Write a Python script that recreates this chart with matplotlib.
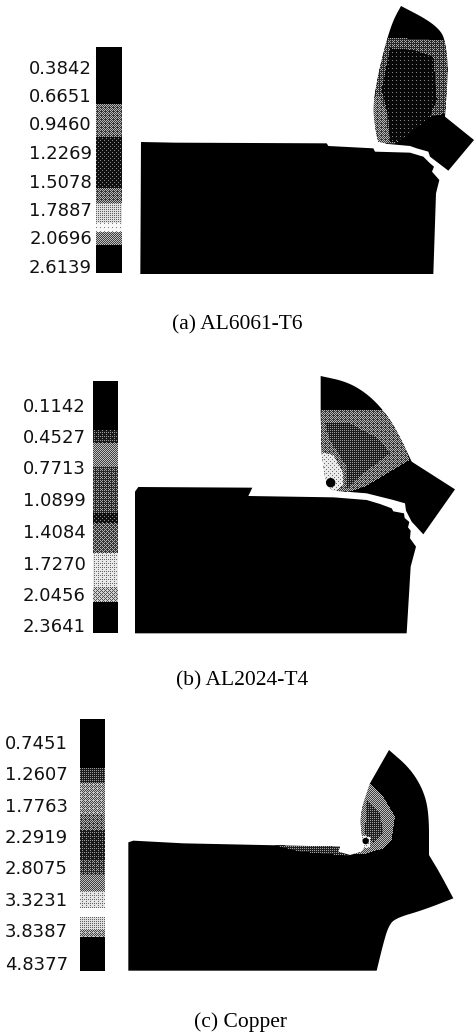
import numpy as np
import matplotlib
matplotlib.use("Agg")
import matplotlib.pyplot as plt
from matplotlib.patches import Polygon, Circle
from matplotlib.path import Path

# Contour legend values
labels_a = ["0.3842", "0.6651", "0.9460", "1.2269", "1.5078", "1.7887", "2.0696", "2.6139"]
labels_b = ["0.1142", "0.4527", "0.7713", "1.0899", "1.4084", "1.7270", "2.0456", "2.3641"]
labels_c = ["0.7451", "1.2607", "1.7763", "2.2919", "2.8075", "3.3231", "3.8387", "4.8377"]
captions = ["(a) AL6061-T6", "(b) AL2024-T4", "(c) Copper"]

# Legend band edges (3x crop units) and gray level of each band
edges_a = [142, 313, 410, 565, 610, 670, 695, 735, 820]
grays_a = [0.0, 0.42, 0.12, 0.42, 0.75, 0.95, 0.5, 0.0]
edges_b = [122, 270, 310, 380, 520, 550, 640, 740, 785, 880]
grays_b = [0.0, 0.2, 0.52, 0.32, 0.12, 0.4, 0.82, 0.65, 0.0]
edges_c = [58, 205, 248, 345, 390, 480, 525, 572, 625, 650, 690, 712, 812]
grays_c = [0.0, 0.22, 0.55, 0.42, 0.2, 0.3, 0.5, 0.8, 0.98, 0.75, 0.55, 0.0]

# Deformed mesh outlines (3x crop units)
work_a = [(423,426),(525,428),(980,430),(985,438),(1120,445),(1125,455),(1230,458),(1270,470),(1290,490),
          (1302,500),(1296,515),(1318,540),(1308,580),(1300,822),(421,822)]
chip_a_right = [(1203,18),(1280,58),(1320,90),(1335,120),(1345,200),(1335,350)]
chip_a_tip = [(1422,420),(1345,512),(1290,470),(1285,455),(1250,445),(1230,438),(1165,432)]
chip_a_left = [(1135,425),(1128,400),(1118,320),(1135,220),(1160,120),(1180,60),(1203,18)]
mid_a = [(1150,112),(1360,122),(1360,200),(1340,340),(1290,350),(1230,400),(1170,440),(1100,430),(1100,220)]
core_a = [(1170,145),(1240,150),(1300,170),(1310,300),(1290,350),(1230,400),(1190,425),(1170,425),(1165,350),(1145,270)]
left_a = [(1100,320),(1135,280),(1160,340),(1165,430),(1100,430)]

work_b = [(405,455),(415,441),(757,443),(745,468),(1000,472),(1100,480),(1140,492),(1175,505),(1180,514),(1212,520),
          (1214,534),(1228,546),(1224,562),(1232,572),(1230,595),(1248,620),(1232,680),(1220,880),(405,880)]
chip_b_arc = [(962,108),(1040,125),(1100,160),(1150,210),(1190,270),(1235,365)]
chip_b_rest = [(1365,448),(1270,583),(1235,545),(1218,512),(1215,490),(1180,480),(1100,460),(1000,452),
               (985,440),(975,410),(965,340),(962,220)]
mid_b = [(950,210),(1150,210),(1200,270),(1228,360),(1095,440),(1040,458),(950,458)]
core_b = [(975,250),(1050,250),(1140,300),(1170,340),(1090,400),(1040,445),(1040,380),(990,300)]
light_b = [(960,335),(1000,345),(1030,400),(1030,435),(1000,458),(960,458)]

body_c_notch = [(385,427),(400,422),(550,430),(1020,440),(1015,455),(1050,465),(1085,455),(1095,440)]
body_c_bulge = [(1095,440),(1085,410),(1080,340),(1110,250)]
body_c_arc = [(1167,150),(1230,205),(1270,270),(1287,340),(1287,465)]
body_c_nose = [(1287,465),(1320,520),(1360,595)]
body_c_under = [(1360,595),(1270,630),(1185,655),(1165,680),(1150,730),(1130,812)]
body_c_base = [(385,812)]
mid_c = [(1060,250),(1110,250),(1150,290),(1185,350),(1175,420),(1150,445),(1095,462),(1060,462)]
core_c = [(1100,300),(1140,340),(1150,400),(1120,430),(1095,400)]
light_c = [(1080,405),(1112,412),(1108,445),(1080,445)]
strip_c = [(810,433),(1020,440),(1015,455),(1050,468),(900,455)]

W, H = 474, 1035
fig = plt.figure(figsize=(W / 100, H / 100), dpi=100)
ax = fig.add_axes([0, 0, 1, 1])

BAYER = np.array([[0, 8, 2, 10], [12, 4, 14, 6], [3, 11, 1, 9], [15, 7, 13, 5]]) / 16 + 1 / 32
YY, XX = np.mgrid[0:H, 0:W]
THRESH = BAYER[YY % 4, XX % 4]
GRID = np.column_stack([XX.ravel() + 0.5, YY.ravel() + 0.5])


def curve(points, n=3):
    pts = np.array(points, float)
    for _ in range(n):
        q = 0.75 * pts[:-1] + 0.25 * pts[1:]
        r = 0.25 * pts[:-1] + 0.75 * pts[1:]
        mid = np.empty((2 * len(q), 2))
        mid[0::2], mid[1::2] = q, r
        pts = np.vstack([pts[0], mid, pts[-1]])
    return pts


def px(points, dy):
    return np.asarray(points, float) / 3 + [0, dy]


def solid(points, dy):
    ax.add_patch(Polygon(px(points, dy), closed=True, fc="black", ec="none", zorder=1))


def stipple(region, gray, clip=None, dy=0, z=2):
    inside = Path(px(region, dy)).contains_points(GRID).reshape(H, W)
    if clip is not None:
        inside &= Path(px(clip, dy)).contains_points(GRID).reshape(H, W)
    rgba = np.zeros((H, W, 4))
    rgba[..., :3] = (0.5 * (gray > THRESH) + 0.5 * gray)[..., None]
    rgba[..., 3] = inside * 1.0
    ax.imshow(rgba, extent=(0, W, H, 0), interpolation="nearest", aspect="auto", zorder=z)


def legend(edges, grays, names, x0, x1, dy, right, label_y):
    x = x0 * 3
    w = x1 * 3
    for top, bot, g in zip(edges[:-1], edges[1:], grays):
        stipple([(x, top), (w, top), (w, bot), (x, bot)], g, dy=dy)
    for name, y in zip(names, label_y):
        ax.text(right, y / 3 + dy + 0.5, name, ha="right", va="center", fontsize=13,
                family="DejaVu Sans", color="#111111", zorder=5)


def caption(x, y, s):
    ax.text(x, y, s, ha="center", va="center", fontsize=15.5, family="Liberation Serif", zorder=5)


# (a)
legend(edges_a, grays_a, labels_a, 96, 122, 0, 92, [204, 290, 375, 460, 546, 632, 716, 802])
solid(work_a, 0)
chip_a = np.vstack([curve(chip_a_right), chip_a_tip, curve(chip_a_left)])
solid(chip_a, 0)
stipple(mid_a, 0.32, chip_a)
stipple(core_a, 0.07, chip_a)
stipple(left_a, 0.45, chip_a)
caption(237, 325, captions[0])

# (b)
legend(edges_b, grays_b, labels_b, 93.5, 117.5, 340, 86, [198, 292, 386, 482, 577, 672, 767, 860])
solid(work_b, 340)
chip_b = np.vstack([curve(chip_b_arc), chip_b_rest])
solid(chip_b, 340)
stipple(mid_b, 0.42, chip_b, 340)
stipple(core_b, 0.22, chip_b, 340)
stipple(light_b, 0.85, chip_b, 340)
ax.add_patch(Circle((992 / 3, 340 + 428 / 3), 4.7, fc="black", ec="none", zorder=3))
caption(242, 681, captions[1])

# (c)
legend(edges_c, grays_c, labels_c, 80.5, 105, 700, 68, [130, 224, 318, 412, 506, 600, 694, 792])
body_c = np.vstack([body_c_notch, curve(body_c_bulge), curve(body_c_arc), curve(body_c_nose, 1),
                    curve(body_c_under), body_c_base])
solid(body_c, 700)
stipple(mid_c, 0.5, body_c, 700)
stipple(core_c, 0.25, body_c, 700)
stipple(light_c, 0.9, body_c, 700)
stipple(strip_c, 0.25, body_c, 700)
ax.add_patch(Circle((1097 / 3, 700 + 423 / 3), 3.2, fc="black", ec="none", zorder=3))
caption(241, 1022, captions[2])

ax.set_xlim(0, W)
ax.set_ylim(H, 0)
ax.axis("off")
fig.savefig("out.png", dpi=100, facecolor="white")
